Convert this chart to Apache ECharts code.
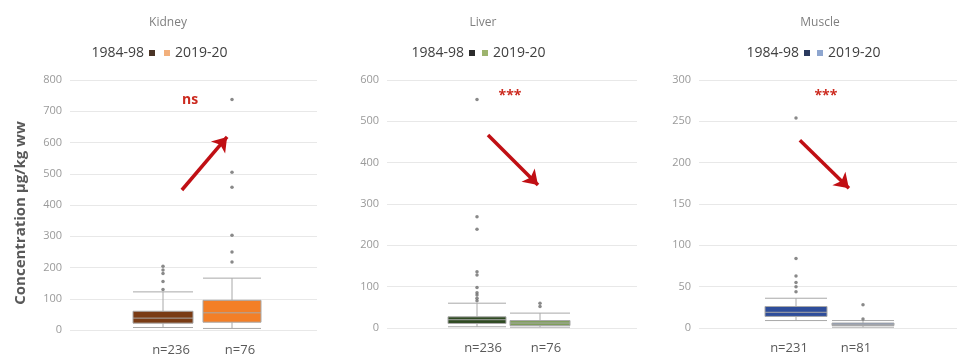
<!DOCTYPE html>
<html><head><meta charset="utf-8">
<script src="https://cdn.jsdelivr.net/npm/echarts@6/dist/echarts.min.js"></script>
<style>html,body{margin:0;padding:0;background:#fff}#c{width:957px;height:363px}</style>
</head><body><div id="c"></div>
<script>
// ---- data ----
const panels = ['Kidney', 'Liver', 'Muscle'];
const periods = ['1984-98', '2019-20'];
const nLabelsKidney = ['n=236', 'n=76'];
const nLabelsLiver = ['n=236', 'n=76'];
const nLabelsMuscle = ['n=231', 'n=81'];
// [min, Q1, median, Q3, max]
const kidneyBox1984 = [8, 22, 38, 60, 122];
const kidneyBox2019 = [5, 25, 55, 95, 166];
const liverBox1984 = [3, 11, 20, 27, 60];
const liverBox2019 = [2, 6, 12, 18, 36];
const muscleBox1984 = [9, 14, 19, 26, 36];
const muscleBox2019 = [1, 3, 4, 6, 9];
const kidneyOut1984 = [130, 155, 181, 192, 204];
const kidneyOut2019 = [218, 250, 303, 457, 505, 738];
const liverOut1984 = [66, 72, 80, 85, 98, 128, 136, 239, 269, 553];
const liverOut2019 = [52, 60];
const muscleOut1984 = [44, 50, 55, 63, 84, 254];
const muscleOut2019 = [11, 28];
const yMax = [800, 600, 300];
const yInterval = [100, 100, 50];
const sigLabels = ['ns', '***', '***'];
// arrow annotations: [xFraction, yValue] start -> end
const arrowsStart = [[0.453, 448], [0.404, 467], [0.391, 227]];
const arrowsEnd = [[0.636, 618], [0.604, 346], [0.581, 169]];
const sigPos = [[0.486, 736], [0.492, 561], [0.492, 281]];

// ---- styles ----
const boxColors = [['#7a3b14', '#f37f27'], ['#2f4a22', '#7f9f5a'], ['#2e4d9a', '#8497b8']];
const legendColors = [['#4a3426', '#f2b07c'], ['#2b2b2b', '#9db46e'], ['#2a3a5e', '#8ea6cf']];
const gridA = [{left: 70, width: 247, top: 80, bottom: 33}, {left: 387, width: 250, top: 80, bottom: 35}, {left: 699, width: 258, top: 80, bottom: 35}];
const centers = [[163, 232], [477, 540], [796, 863]];
const boxW = [[60, 58], [58, 60], [62, 62]];
const nLabelPad = [[0, 0, 0, 16], [0, 0, 0, 12], [0, 14, 0, 0]];
const titleX = [163, 478, 815];
const legendARight = [802, 482, 147];
const legendBLeft = [164, 482, 817];

const boxes = [[kidneyBox1984, kidneyBox2019], [liverBox1984, liverBox2019], [muscleBox1984, muscleBox2019]];
const outs = [[kidneyOut1984, kidneyOut2019], [liverOut1984, liverOut2019], [muscleOut1984, muscleOut2019]];
const nLabels = [nLabelsKidney, nLabelsLiver, nLabelsMuscle];

const grid = [], xAxis = [], yAxis = [], series = [], legend = [], title = [];
panels.forEach((p, i) => {
  const ga = gridA[i];
  const gA = grid.length;
  grid.push({left: ga.left, width: ga.width, top: ga.top, bottom: ga.bottom, containLabel: false});
  const band = centers[i][1] - centers[i][0];
  const gB = grid.length;
  grid.push({left: centers[i][0] - band / 2, width: band * 2, top: ga.top, bottom: ga.bottom});
  const xa = xAxis.length;
  xAxis.push({gridIndex: gA, type: 'value', min: 0, max: 1, show: false});
  const ya = yAxis.length;
  yAxis.push({gridIndex: gA, type: 'value', min: 0, max: yMax[i], interval: yInterval[i],
    axisLine: {show: false}, axisTick: {show: false},
    axisLabel: {color: '#9a9a9a', fontSize: 11, margin: 8, fontFamily: 'Open Sans'},
    splitLine: {lineStyle: {color: '#e8e8e8', width: 1}},
    name: i === 0 ? 'Concentration µg/kg ww' : '', nameLocation: 'middle', nameGap: 42,
    nameTextStyle: {color: '#595959', fontSize: 15, fontWeight: 'bold', fontFamily: 'Open Sans', padding: [0, 16, 0, 0]}});
  const xb1 = xAxis.length;
  xAxis.push({gridIndex: gB, type: 'category', data: nLabels[i],
    axisLine: {show: false}, axisTick: {show: false},
    axisLabel: {color: '#595959', fontSize: 13, margin: 14, fontFamily: 'Open Sans', padding: nLabelPad[i]}});
  const xb2 = xAxis.length;
  xAxis.push({gridIndex: gB, type: 'category', data: nLabels[i], show: false});
  const yb = yAxis.length;
  yAxis.push({gridIndex: gB, type: 'value', min: 0, max: yMax[i], show: false, splitLine: {show: false}});

  periods.forEach((per, k) => {
    series.push({
      name: p + '|' + per, type: 'boxplot', xAxisIndex: k === 0 ? xb1 : xb2, yAxisIndex: yb,
      boxWidth: [boxW[i][k], boxW[i][k]],
      data: [[k].concat(boxes[i][k])],
      encode: {x: 0, y: [1, 2, 3, 4, 5]},
      itemStyle: {color: boxColors[i][k], borderColor: '#a8a8a8', borderWidth: 1},
      silent: true, z: 3
    });
    series.push({
      name: p + ' outliers ' + per, type: 'scatter', xAxisIndex: xb1, yAxisIndex: yb,
      symbol: 'circle', symbolSize: 3.5,
      data: outs[i][k].map(v => [k, v]),
      itemStyle: {color: '#6b6b6b'}, silent: true, z: 4
    });
  });
  series.push({
    type: 'line', xAxisIndex: xa, yAxisIndex: ya, data: [], silent: true,
    markLine: {
      silent: true, symbol: ['none', 'arrow'], symbolSize: 14,
      lineStyle: {color: '#c00f14', width: 3.5, type: 'solid'}, label: {show: false},
      emphasis: {disabled: true},
      data: [[{coord: arrowsStart[i]}, {coord: arrowsEnd[i]}]]
    },
    markPoint: {
      silent: true, symbol: 'circle', symbolSize: 1, itemStyle: {color: 'rgba(0,0,0,0)'},
      label: {show: true, formatter: sigLabels[i], color: '#cc2a1f', fontWeight: 'bold', fontSize: 14, fontFamily: 'Open Sans', position: 'inside'},
      data: [{coord: sigPos[i]}]
    }
  });
  title.push({text: p, left: titleX[i], top: 12, textAlign: 'center',
    textStyle: {color: '#7f7f7f', fontSize: 12, fontWeight: 'normal', fontFamily: 'Open Sans'}});
  legend.push({data: [{name: p + '|' + periods[0], itemStyle: {color: legendColors[i][0], borderWidth: 0}}],
    right: legendARight[i], top: 46, align: 'right', padding: 0,
    icon: 'rect', itemWidth: 6, itemHeight: 6, selectedMode: false,
    formatter: n => n.split('|')[1], textStyle: {color: '#404040', fontSize: 14, fontFamily: 'Open Sans'}});
  legend.push({data: [{name: p + '|' + periods[1], itemStyle: {color: legendColors[i][1], borderWidth: 0}}],
    left: legendBLeft[i], top: 46, align: 'left', padding: 0,
    icon: 'rect', itemWidth: 6, itemHeight: 6, selectedMode: false,
    formatter: n => n.split('|')[1], textStyle: {color: '#404040', fontSize: 14, fontFamily: 'Open Sans'}});
});

const chart = echarts.init(document.getElementById('c'), null, {renderer: 'canvas'});
chart.setOption({backgroundColor: '#fff', animation: false, title, legend, grid, xAxis, yAxis, series});
</script></body></html>
